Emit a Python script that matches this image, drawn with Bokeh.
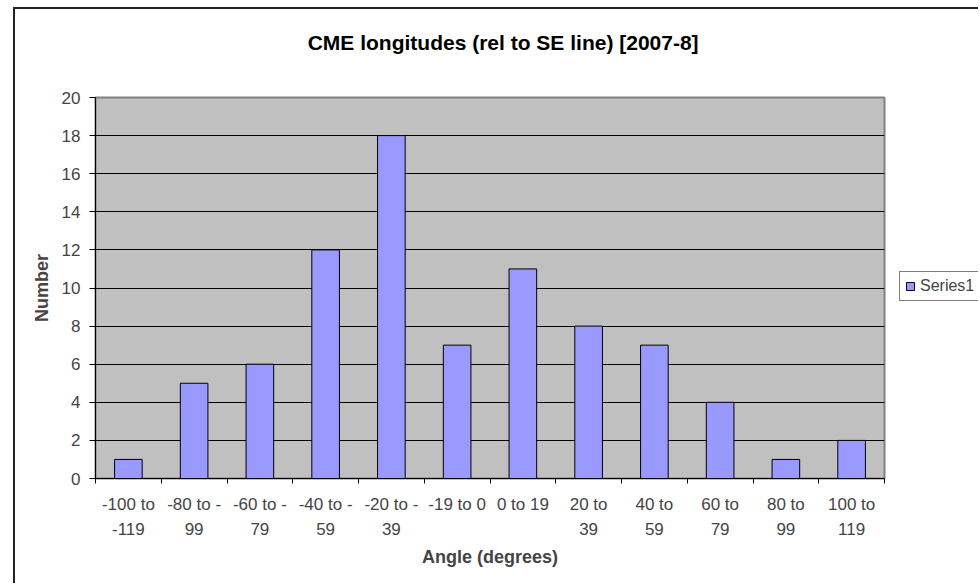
from bokeh.plotting import figure
from bokeh.models import (Range1d, FixedTicker, Legend, LegendItem, ColumnDataSource,
                          LinearAxis)
from bokeh.layouts import row
from bokeh.embed import file_html
from bokeh.resources import INLINE

# ---- data ----
categories = ["-100 to\n-119", "-80 to -\n99", "-60 to -\n79", "-40 to -\n59",
              "-20 to -\n39", "-19 to 0", "0 to 19", "20 to\n39", "40 to\n59",
              "60 to\n79", "80 to\n99", "100 to\n119"]
counts = [1, 5, 6, 12, 18, 7, 11, 8, 7, 4, 1, 2]
y_ticks = [0, 2, 4, 6, 8, 10, 12, 14, 16, 18, 20]
series_name = "Series1"
chart_title = "CME longitudes (rel to SE line) [2007-8]"
x_title = "Angle (degrees)"
y_title = "Number"

FONT = "Liberation Sans"
BAR_FILL = "#9999FF"
TITLE_POS = 5.7   # horizontal placement of the chart title (x units)

x = list(range(len(categories)))
src = ColumnDataSource(dict(x=x, count=counts))

p = figure(width=874, height=574,
           x_range=Range1d(-0.5, len(categories) - 0.5),
           y_range=Range1d(y_ticks[0], y_ticks[-1]),
           output_backend="svg", toolbar_location=None,
           min_border_left=80, min_border_top=88, min_border_bottom=105,
           min_border_right=5)

p.background_fill_color = "#C0C0C0"
p.border_fill_color = "white"
p.outline_line_color = "#808080"
p.outline_line_width = 2

p.xgrid.grid_line_color = None
p.ygrid.ticker = FixedTicker(ticks=y_ticks)
p.ygrid.grid_line_color = "black"
p.ygrid.grid_line_width = 1

r = p.vbar(x="x", top="count", width=0.42, source=src,
           fill_color=BAR_FILL, line_color="black", line_width=1)

# x axis: labels at category centres, tick marks at category boundaries
xa = p.xaxis[0]
xa.ticker = FixedTicker(ticks=x, minor_ticks=[i - 0.5 for i in range(len(categories) + 1)])
xa.major_label_overrides = {i: c for i, c in zip(x, categories)}
xa.major_tick_line_color = None
xa.major_tick_out = 5
xa.major_tick_in = 0
xa.minor_tick_out = 5
xa.minor_tick_in = 0
xa.minor_tick_line_color = "black"
xa.axis_line_color = "black"
xa.major_label_text_font = FONT
xa.major_label_text_font_size = "17px"
xa.major_label_text_line_height = 1.35
xa.major_label_standoff = 11
xa.axis_label = x_title
xa.axis_label_text_font = FONT
xa.axis_label_text_font_size = "18px"
xa.axis_label_text_font_style = "bold"
xa.axis_label_standoff = 5

ya = p.yaxis[0]
ya.ticker = FixedTicker(ticks=y_ticks, minor_ticks=[])
ya.major_tick_out = 6
ya.major_tick_in = 0
ya.major_tick_line_color = "black"
ya.minor_tick_line_color = None
ya.axis_line_color = "black"
ya.major_label_text_font = FONT
ya.major_label_text_font_size = "17px"
ya.major_label_standoff = 9
ya.axis_label = y_title
ya.axis_label_text_font = FONT
ya.axis_label_text_font_size = "18px"
ya.axis_label_text_font_style = "bold"
ya.axis_label_standoff = 7

# chart title, carried by an otherwise invisible axis above the plot area
title_axis = LinearAxis(ticker=FixedTicker(ticks=[TITLE_POS], minor_ticks=[]),
                        major_label_overrides={TITLE_POS: chart_title},
                        major_tick_out=0, major_tick_in=0,
                        axis_line_color=None, major_tick_line_color=None,
                        minor_tick_line_color=None,
                        major_label_standoff=44,
                        major_label_text_font=FONT,
                        major_label_text_font_size="21px",
                        major_label_text_font_style="bold",
                        major_label_text_color="black")
p.add_layout(title_axis, "above")

# legend panel to the right of the chart (its own bars fall outside its view,
# only the legend swatch is seen)
lf = figure(width=89, height=574, x_range=Range1d(-20, -19), y_range=Range1d(0, 1),
            output_backend="svg", toolbar_location=None, min_border=0)
lf.axis.visible = False
lf.grid.visible = False
lf.outline_line_color = None
lf.background_fill_color = "white"
lf.border_fill_color = "white"
swatch = lf.vbar(x="x", top="count", width=0.42, source=src,
                 fill_color=BAR_FILL, line_color="black", line_width=1)
legend = Legend(items=[LegendItem(label=series_name, renderers=[swatch])],
                location=(10, 177), padding=5, spacing=0, margin=0,
                glyph_width=10, glyph_height=10, label_standoff=5,
                label_text_font=FONT, label_text_font_size="16px",
                border_line_color="black", border_line_width=1,
                background_fill_color="white")
lf.add_layout(legend)

layout = row(p, lf, spacing=0)
layout.styles = {"border-left": "2px solid #222", "border-top": "2px solid #222",
                 "margin-left": "13px", "margin-top": "7px"}

open("out.html", "w").write(file_html(layout, INLINE))
